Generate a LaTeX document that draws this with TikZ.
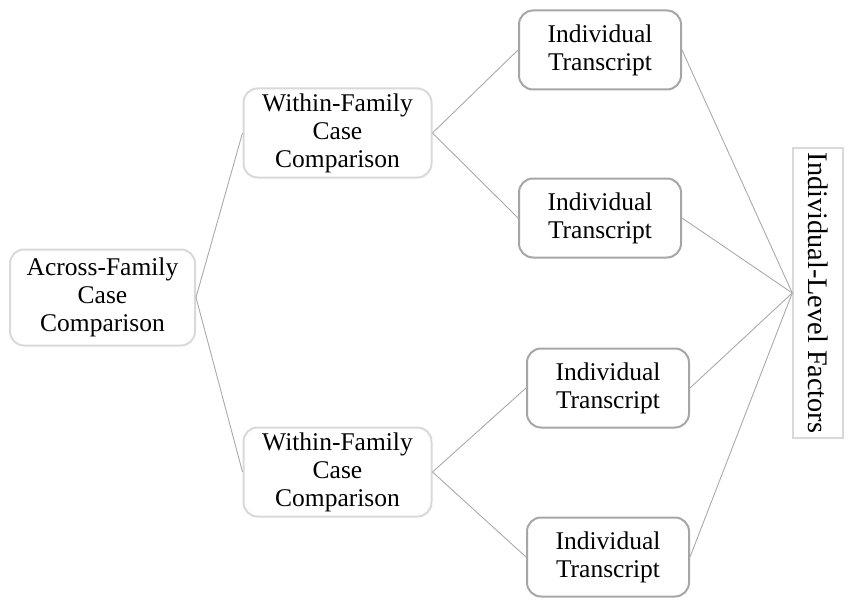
\documentclass[tikz,border=0pt]{standalone}
\usepackage{fontspec}
\setmainfont{Liberation Serif}
\definecolor{lightb}{HTML}{D9D9D9}
\definecolor{darkb}{HTML}{A6A6A6}
\definecolor{linec}{HTML}{AAAAAA}
\tikzset{
  lbox/.style={draw=lightb, line width=2pt, rounded corners=14pt, align=center, inner sep=0pt,
    font=\fontsize{25.5}{28}\selectfont},
  ibox/.style={draw=darkb, line width=2pt, rounded corners=14pt, align=center, inner sep=0pt,
    minimum width=162pt, minimum height=79pt, font=\fontsize{25.5}{28}\selectfont},
  fbox/.style={draw=lightb, line width=1.5pt, rotate=-90, inner sep=0pt,
    minimum width=290pt, minimum height=50pt,
    font=\fontsize{28.3}{30}\selectfont},
  conn/.style={draw=linec, line width=0.9pt}
}
\begin{document}
\begin{tikzpicture}[x=1pt,y=-1pt]
\useasboundingbox (0,0) rectangle (849,602);
\node[lbox, minimum width=185pt, minimum height=96pt] (across) at (102.5,297.5) {Across-Family\\Case\\Comparison};
\node[lbox, minimum width=188pt, minimum height=89pt] (wtop) at (337.5,133) {Within-Family\\Case\\Comparison};
\node[lbox, minimum width=188pt, minimum height=89pt] (wbot) at (337.5,472) {Within-Family\\Case\\Comparison};
\node[ibox] (i1) at (600,50) {Individual\\Transcript};
\node[ibox] (i2) at (600,218) {Individual\\Transcript};
\node[ibox] (i3) at (608,388) {Individual\\Transcript};
\node[ibox] (i4) at (608,557) {Individual\\Transcript};
\node[fbox] (factor) at (818,293) {Individual-Level Factors};
\draw[conn] (across.east) -- (wtop.west);
\draw[conn] (across.east) -- (wbot.west);
\draw[conn] (wtop.east) -- (i1.west);
\draw[conn] (wtop.east) -- (i2.west);
\draw[conn] (wbot.east) -- (i3.west);
\draw[conn] (wbot.east) -- (i4.west);
\draw[conn] (i1.east) -- (factor.south);
\draw[conn] (i2.east) -- (factor.south);
\draw[conn] (i3.east) -- (factor.south);
\draw[conn] (i4.east) -- (factor.south);
\end{tikzpicture}
\end{document}
